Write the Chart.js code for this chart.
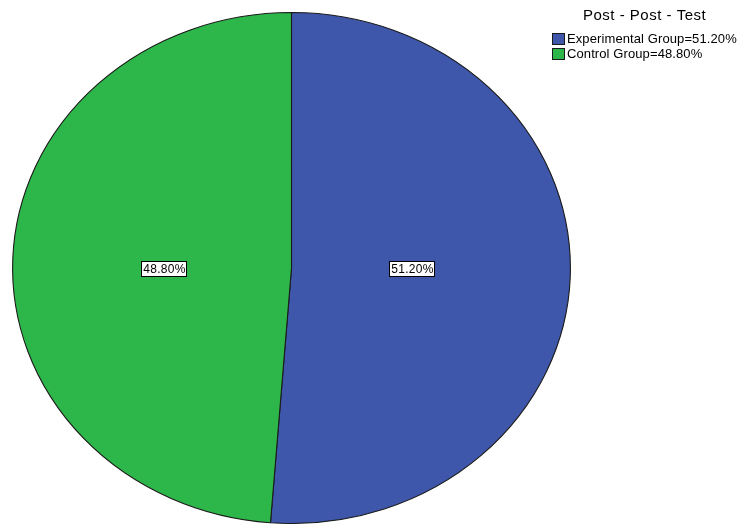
<!DOCTYPE html>
<html>
<head>
<meta charset="utf-8">
<script src="https://cdn.jsdelivr.net/npm/chart.js@4/dist/chart.umd.min.js"></script>
<style>
  html, body { margin: 0; padding: 0; background: #fff; overflow: hidden; }
  #wrap { position: relative; width: 737px; height: 524px; }
</style>
</head>
<body>
<div id="wrap"><canvas id="pieChart" width="737" height="524"></canvas></div>
<script>
/* ---------- data ---------- */
const legendTitle = 'Post - Post - Test';
const groups = ['Experimental Group', 'Control Group'];
const percents = [51.20, 48.80];
const colors = ['#3e57ab', '#2db74a'];

/* ---------- ellipse stretch (pie drawn wider than tall) ---------- */
const STRETCH_X = 280 / 256.5;

const ellipsePlugin = {
    id: 'ellipse',
    beforeDatasetsDraw(chart) {
        const a = chart.getDatasetMeta(0).data[0];
        const ctx = chart.ctx;
        ctx.save();
        ctx.translate(a.x, a.y);
        ctx.scale(STRETCH_X, 1);
        ctx.translate(-a.x, -a.y);
    },
    afterDatasetsDraw(chart) {
        chart.ctx.restore();
    }
};

/* ---------- value boxes inside slices ---------- */
const boxLabels = {
    id: 'boxLabels',
    afterDraw(chart) {
        const ctx = chart.ctx;
        const meta = chart.getDatasetMeta(0);
        ctx.save();
        ctx.font = '12px "Liberation Sans", Arial, sans-serif';
        ctx.letterSpacing = '0.3px';
        ctx.textBaseline = 'middle';
        ctx.textAlign = 'center';
        meta.data.forEach((arc, i) => {
            const mid = (arc.startAngle + arc.endAngle) / 2;
            const x = arc.x - 4 + Math.cos(mid) * arc.outerRadius * STRETCH_X * 0.445;
            const y = arc.y;
            const txt = percents[i].toFixed(2) + '%';
            const w = 45, h = 15;
            const bx = Math.round(x - w / 2) + 0.5;
            const by = Math.round(y - h / 2) + 0.5;
            ctx.fillStyle = '#fff';
            ctx.fillRect(bx, by, w, h);
            ctx.strokeStyle = '#000';
            ctx.lineWidth = 1;
            ctx.strokeRect(bx, by, w, h);
            ctx.fillStyle = '#000';
            ctx.fillText(txt, bx + w / 2 + 0.5, by + h / 2 + 1);
        });
        ctx.restore();
    }
};

/* ---------- legend at top right ---------- */
const sideLegend = {
    id: 'sideLegend',
    afterDraw(chart) {
        const ctx = chart.ctx;
        ctx.save();
        ctx.fillStyle = '#000';
        ctx.font = '15px "Liberation Sans", Arial, sans-serif';
        ctx.letterSpacing = '0.5px';
        ctx.textAlign = 'left';
        ctx.textBaseline = 'middle';
        ctx.fillText(legendTitle, 583, 16);

        ctx.font = '13px "Liberation Sans", Arial, sans-serif';
        ctx.letterSpacing = '0.1px';
        groups.forEach((g, i) => {
            const y = 33 + i * 15;
            ctx.fillStyle = colors[i];
            ctx.fillRect(552, y, 13, 12);
            ctx.strokeStyle = '#1a1a1a';
            ctx.lineWidth = 1;
            ctx.strokeRect(552.5, y + 0.5, 12, 11);
            ctx.fillStyle = '#000';
            ctx.fillText(g + '=' + percents[i].toFixed(2) + '%', 567, y + 6.5);
        });
        ctx.restore();
    }
};

new Chart(document.getElementById('pieChart'), {
    type: 'pie',
    data: {
        labels: groups,
        datasets: [{
            data: percents,
            backgroundColor: colors,
            borderColor: '#1a1a1a',
            borderWidth: 1
        }]
    },
    options: {
        responsive: false,
        animation: false,
        layout: { padding: { left: 34, right: 188, top: 12, bottom: -2 } },
        plugins: {
            legend: { display: false },
            tooltip: { enabled: false }
        }
    },
    plugins: [ellipsePlugin, boxLabels, sideLegend]
});
</script>
</body>
</html>
